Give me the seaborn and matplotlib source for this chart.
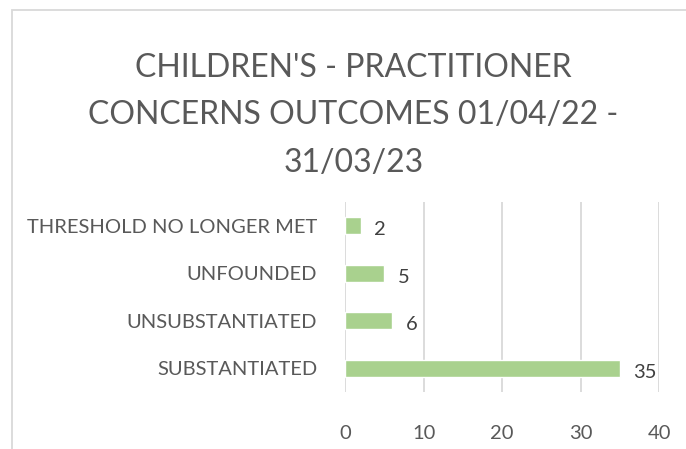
import matplotlib
matplotlib.use('Agg')
import matplotlib.pyplot as plt
import seaborn as sns
import pandas as pd
from matplotlib.patches import Rectangle

# Veriler (yukarıdan aşağıya)
outcomes = ['THRESHOLD NO LONGER MET', 'UNFOUNDED', 'UNSUBSTANTIATED', 'SUBSTANTIATED']
counts = [2, 5, 6, 35]
x_ticks = [0, 10, 20, 30, 40]

title = "CHILDREN'S - PRACTITIONER\nCONCERNS OUTCOMES 01/04/22 -\n31/03/23"

sns.set_theme(style='white')
plt.rcParams['font.family'] = ['Lato', 'DejaVu Sans']

df = pd.DataFrame({'outcome': outcomes, 'count': counts})

fig = plt.figure(figsize=(6.86, 4.49), dpi=100)
ax = fig.add_axes([0.503, 0.127, 0.458, 0.423])

sns.barplot(data=df, y='outcome', x='count', order=outcomes, orient='h',
            color='#A9D18E', saturation=1, width=0.36, ax=ax, zorder=3)

ax.set_xlim(0, 40)
ax.set_ylim(3.5, -0.5)
ax.set_xticks(x_ticks)
ax.set_xlabel('')
ax.set_ylabel('')
ax.grid(axis='x', color='#D9D9D9', linewidth=1.3, zorder=0)
ax.grid(axis='y', visible=False)
for s in ax.spines.values():
    s.set_visible(False)

ax.tick_params(axis='x', length=0, pad=24, labelsize=14.5, labelcolor='#595959')
ax.tick_params(axis='y', length=0, pad=20, labelsize=14.5, labelcolor='#595959')

# Değer etiketleri
for i, v in enumerate(counts):
    ax.text(v + 1.7, i + 0.08, str(v), va='center', ha='left',
            fontsize=14.5, color='#404040')

fig.suptitle(title, x=0.515, y=0.882, fontsize=23, color='#595959',
             linespacing=1.72, va='top')

# Grafik alanı çerçevesi
fig.patches.append(Rectangle((12 / 686, -0.1), 1.2, 1.1 - 10 / 449,
                             transform=fig.transFigure, fill=False,
                             edgecolor='#D9D9D9', linewidth=1.3))

fig.savefig('out.png', dpi=100)
